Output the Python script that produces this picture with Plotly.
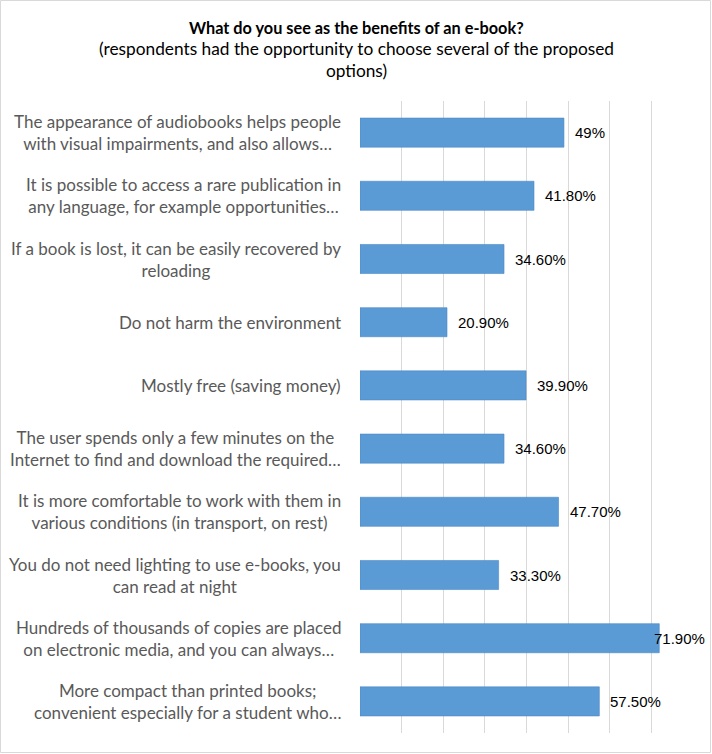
import plotly.graph_objects as go

categories = [
    "The appearance of audiobooks helps people<br>with visual impairments, and also allows…",
    "It is possible to access a rare publication in<br>any language, for example opportunities…",
    "If a book is lost, it can be easily recovered by<br>reloading",
    "Do not harm the environment",
    "Mostly free (saving money)",
    "The user spends only a few minutes on the<br>Internet to find and download the required…",
    "It is more comfortable to work with them in<br>various conditions (in transport, on rest)",
    "You do not need lighting to use e-books, you<br>can read at night",
    "Hundreds of thousands of copies are placed<br>on electronic media, and you can always…",
    "More compact than printed books;<br>convenient especially for a student who…",
]
values = [0.49, 0.418, 0.346, 0.209, 0.399, 0.346, 0.477, 0.333, 0.719, 0.575]
value_labels = ["49%", "41.80%", "34.60%", "20.90%", "39.90%", "34.60%",
                "47.70%", "33.30%", "71.90%", "57.50%"]

W, H = 712, 754
ML, MR, MT, MB = 360, 19, 101, 21
XMAX = 0.8

fig = go.Figure()
fig.add_trace(go.Bar(
    x=values, y=list(range(len(categories))), orientation="h",
    marker=dict(color="#5B9BD5", line=dict(color="#4A88C6", width=0.6)),
    width=0.46, hoverinfo="skip",
))

annotations = []
for i, (cat, v, lab) in enumerate(zip(categories, values, value_labels)):
    annotations.append(dict(
        xref="paper", yref="y", x=0, y=i, xanchor="right", yanchor="middle",
        xshift=-17, text=cat, showarrow=False, align="center",
        font=dict(family="Lato", size=17, color="#595959"),
    ))
    if v > XMAX - 0.1:
        annotations.append(dict(
            xref="x", yref="y", x=XMAX, y=i, xanchor="right", yanchor="middle",
            xshift=14, text=lab, showarrow=False,
            font=dict(family="Liberation Sans, Arial", size=15, color="#000000"),
        ))
    else:
        annotations.append(dict(
            xref="x", yref="y", x=v, y=i, xanchor="left", yanchor="middle",
            xshift=9, text=lab, showarrow=False,
            font=dict(family="Liberation Sans, Arial", size=15, color="#000000"),
        ))

pw = W - ML - MR
ph = H - MT - MB
xc = (W / 2 - ML) / pw
annotations.append(dict(
    xref="paper", yref="paper", x=xc, y=1,
    yshift=74, xanchor="center", yanchor="middle", showarrow=False,
    text="<b>What do you see as the benefits of an e-book?</b>",
    font=dict(family="Lato", size=16.3, color="#000000"),
))
annotations.append(dict(
    xref="paper", yref="paper", x=xc, y=1,
    yshift=41.5, xanchor="center", yanchor="middle", showarrow=False, align="center",
    text="(respondents had the opportunity to choose several of the proposed<br>options)",
    font=dict(family="Lato", size=17.3, color="#000000"),
))

fig.update_layout(
    width=W, height=H,
    margin=dict(l=ML, r=MR, t=MT, b=MB, pad=0),
    paper_bgcolor="white", plot_bgcolor="white",
    showlegend=False,
    annotations=annotations,
    xaxis=dict(range=[0, XMAX], dtick=0.1, showticklabels=False, showgrid=True,
               gridcolor="#D9D9D9", gridwidth=1, zeroline=False, showline=False,
               fixedrange=True),
    yaxis=dict(range=[len(categories) - 0.5, -0.5], showticklabels=False,
               showgrid=False, zeroline=False, showline=False, fixedrange=True),
    shapes=[dict(type="rect", xref="paper", yref="paper",
                 x0=(0.5 - ML) / pw, x1=(W - 1.5 - ML) / pw,
                 y0=(1.5 - MB) / ph, y1=(H - 0.5 - MB) / ph,
                 line=dict(color="#D9D9D9", width=1), layer="below")],
)

fig.write_html(
    "out.html",
    config={"displayModeBar": False},
    post_script="document.body.style.margin='0';document.body.style.overflow='hidden';",
)
